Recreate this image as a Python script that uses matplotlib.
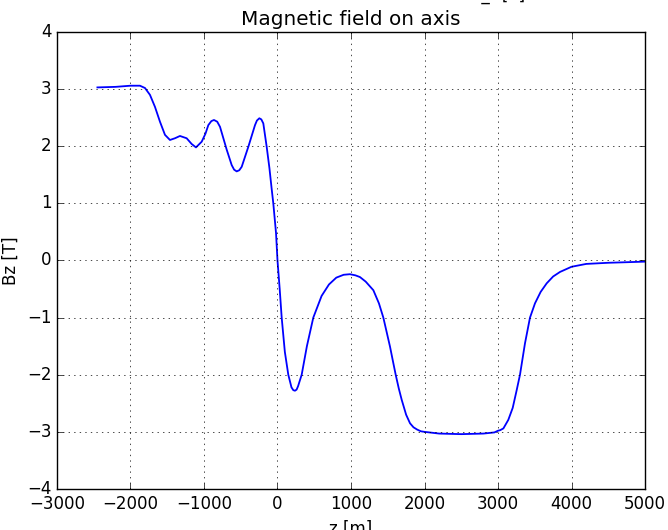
import matplotlib
matplotlib.use('Agg')
import matplotlib.pyplot as plt

# field on axis
z = [-2450, -2200, -2000, -1871, -1803, -1735, -1667, -1599, -1531, -1463,
     -1395, -1327, -1236, -1168, -1109, -1031, -980, -941, -900, -864,
     -820, -782, -691, -623, -590, -555, -520, -487, -397, -306,
     -280, -247, -220, -193, -147, -110, -79, -57, -20, 0,
     30, 57, 100, 147, 190, 215, 238, 260, 280, 329,
     400, 487, 600, 700, 800, 900, 986, 1060, 1122, 1200,
     1304, 1380, 1440, 1490, 1531, 1570, 1608, 1650, 1690, 1750,
     1803, 1850, 1900, 1950, 2000, 2200, 2500, 2800, 2950, 3000,
     3030, 3073, 3100, 3140, 3200, 3254, 3299, 3367, 3435, 3503,
     3580, 3662, 3750, 3844, 4000, 4200, 4500, 5000]
bz = [3.03, 3.04, 3.06, 3.06, 3.02, 2.90, 2.69, 2.43, 2.20, 2.11,
      2.14, 2.18, 2.14, 2.04, 1.98, 2.08, 2.22, 2.37, 2.44, 2.46,
      2.43, 2.34, 1.94, 1.67, 1.59, 1.56, 1.58, 1.64, 1.99, 2.37,
      2.45, 2.49, 2.47, 2.40, 1.99, 1.62, 1.25, 1.0, 0.48, 0.0,
      -0.5, -1.0, -1.6, -2.0, -2.22, -2.27, -2.28, -2.26, -2.2, -2.0,
      -1.5, -1.0, -0.62, -0.42, -0.3, -0.25, -0.24, -0.26, -0.29, -0.37,
      -0.52, -0.75, -1.0, -1.28, -1.51, -1.76, -2.0, -2.24, -2.44, -2.70,
      -2.85, -2.92, -2.96, -2.99, -3.0, -3.03, -3.04, -3.03, -3.01, -2.98,
      -2.97, -2.94, -2.88, -2.79, -2.58, -2.27, -2.0, -1.45, -1.0, -0.75,
      -0.55, -0.40, -0.28, -0.2, -0.11, -0.06, -0.04, -0.02]

plt.style.use('classic')
fig = plt.figure(figsize=(6.68, 5.30), dpi=100, facecolor='white')
ax = fig.add_axes([0.0853, 0.0774, 0.8803, 0.8622])
ax.plot(z, bz, 'b-', lw=1.3)
ax.set_xlim(-3000, 5000)
ax.set_ylim(-4, 4)
ax.grid(True)
ax.set_title('Magnetic field on axis')
ax.set_xlabel('z [m]')
ax.set_ylabel('Bz [T]')

# bottom of a label from the plot above, cut by the crop
fig.text(0.745, 1 - 4 / 530, 'B_r [T]', ha='center', va='bottom', fontsize=12)

fig.savefig('out.png', dpi=100, facecolor='white')
